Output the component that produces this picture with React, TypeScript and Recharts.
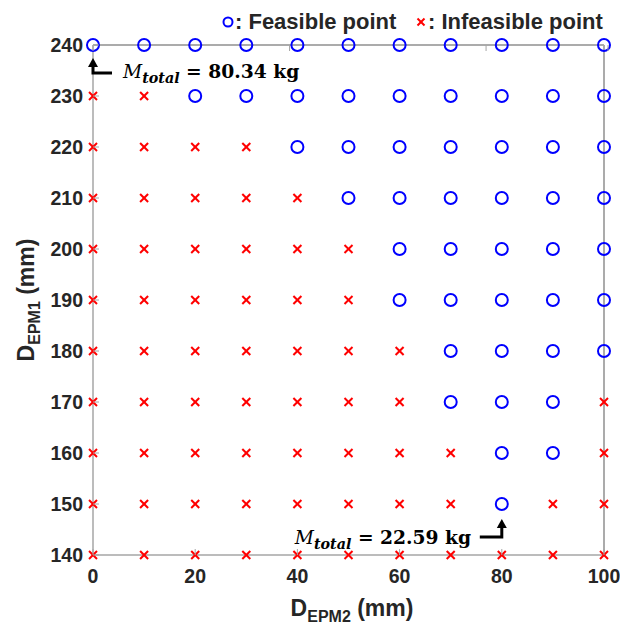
import React from "react";
import { ScatterChart, Scatter, XAxis, YAxis, ReferenceDot, ReferenceLine } from "recharts";

const xValues = [0, 10, 20, 30, 40, 50, 60, 70, 80, 90, 100];
const xTickLabels = [0, 20, 40, 60, 80, 100];
const yTickLabels = [140, 150, 160, 170, 180, 190, 200, 210, 220, 230, 240];

// feasible x values for each D_EPM1 row
const feasibleRows: { y: number; xs: number[] }[] = [
  { y: 240, xs: [0, 10, 20, 30, 40, 50, 60, 70, 80, 90, 100] },
  { y: 230, xs: [20, 30, 40, 50, 60, 70, 80, 90, 100] },
  { y: 220, xs: [40, 50, 60, 70, 80, 90, 100] },
  { y: 210, xs: [50, 60, 70, 80, 90, 100] },
  { y: 200, xs: [60, 70, 80, 90, 100] },
  { y: 190, xs: [60, 70, 80, 90, 100] },
  { y: 180, xs: [70, 80, 90, 100] },
  { y: 170, xs: [70, 80, 90] },
  { y: 160, xs: [80, 90] },
  { y: 150, xs: [80] },
  { y: 140, xs: [] },
];

const minMassPoint = { x: 80, y: 150, label: "22.59 kg" };
const maxMassPoint = { x: 0, y: 240, label: "80.34 kg" };

const feasible: { x: number; y: number }[] = [];
const infeasible: { x: number; y: number }[] = [];
feasibleRows.forEach((row) => {
  xValues.forEach((x) => {
    if (row.xs.includes(x)) feasible.push({ x, y: row.y });
    else infeasible.push({ x, y: row.y });
  });
});

const AXIS = "#a6a6a6";
const TXT = "#262626";
const SANS = "'Liberation Sans', Arial, sans-serif";
const SERIF = "'DejaVu Serif', 'Liberation Serif', serif";

const Circle = (p: any) => (
  <circle cx={p.cx} cy={p.cy} r={6} fill="none" stroke="#0000ff" strokeWidth={2} />
);
const Cross = (p: any) => (
  <g stroke="#ff0000" strokeWidth={2}>
    <line x1={p.cx - 4} y1={p.cy - 4} x2={p.cx + 4} y2={p.cy + 4} />
    <line x1={p.cx - 4} y1={p.cy + 4} x2={p.cx + 4} y2={p.cy - 4} />
  </g>
);

const M = 4;
const LeftTick = (p: any) => (
  <g>
    <line x1={p.x + M} y1={p.y} x2={p.x + M + 6} y2={p.y} stroke={AXIS} strokeWidth={1} />
    <text x={p.x - 6} y={p.y} dy={7} textAnchor="end" fontFamily={SANS} fontWeight="bold" fontSize={19.5} fill={TXT}>
      {p.payload.value}
    </text>
  </g>
);
const RightTick = (p: any) => (
  <line x1={p.x - M} y1={p.y} x2={p.x - M - 6} y2={p.y} stroke={AXIS} strokeWidth={1} />
);
const BottomTick = (p: any) => (
  <g>
    <line x1={p.x} y1={p.y - M} x2={p.x} y2={p.y - M - 6} stroke={AXIS} strokeWidth={1} />
    <text x={p.x} y={p.y} dy={24} textAnchor="middle" fontFamily={SANS} fontWeight="bold" fontSize={19.5} fill={TXT}>
      {p.payload.value}
    </text>
  </g>
);
const TopTick = (p: any) => (
  <line x1={p.x} y1={p.y + M} x2={p.x} y2={p.y + M + 6} stroke={AXIS} strokeWidth={1} />
);

const MassText = ({ x, y, value }: { x: number; y: number; value: string }) => (
  <text x={x} y={y} fontFamily={SERIF} fill="#000" fontSize={18.7}>
    <tspan fontStyle="italic">M</tspan>
    <tspan fontStyle="italic" fontWeight="bold" fontSize={14.3} dy={5}>total</tspan>
    <tspan dy={-5} fontWeight="bold">{" = " + value}</tspan>
  </text>
);

const TopAnnotation = (p: any) => {
  const { cx, cy } = p;
  return (
    <g>
      <path d={`M${cx} ${cy + 28} L${cx} ${cy + 20} M${cx - 1.5} ${cy + 28} L${cx + 19} ${cy + 28}`} stroke="#000" strokeWidth={3} fill="none" />
      <polygon points={`${cx},${cy + 13} ${cx - 5},${cy + 22} ${cx + 5},${cy + 22}`} fill="#000" />
      <MassText x={cx + 30} y={cy + 33} value={maxMassPoint.label} />
    </g>
  );
};
const BottomAnnotation = (p: any) => {
  const { cx, cy } = p;
  return (
    <g>
      <path d={`M${cx - 22} ${cy + 33} L${cx + 1.5} ${cy + 33} M${cx} ${cy + 33} L${cx} ${cy + 24}`} stroke="#000" strokeWidth={3} fill="none" />
      <polygon points={`${cx},${cy + 15} ${cx - 5},${cy + 24} ${cx + 5},${cy + 24}`} fill="#000" />
      <MassText x={cx - 207} y={cy + 40} value={minMassPoint.label} />
    </g>
  );
};

export default function App() {
  return (
    <div style={{ position: "absolute", left: 0, top: 0, width: 620, height: 626 }}>
      <ScatterChart width={620} height={626} margin={{ top: 44, right: 15, bottom: 31, left: 33 }}>
        <XAxis
          xAxisId="b"
          dataKey="x"
          type="number"
          domain={[0, 100]}
          ticks={xTickLabels}
          tick={<BottomTick />}
          tickLine={false}
          tickSize={0}
          tickMargin={M}
          stroke={AXIS}
          strokeWidth={1.5}
          height={40}
        />
        <XAxis
          xAxisId="t"
          orientation="top"
          type="number"
          domain={[0, 100]}
          ticks={xTickLabels}
          tick={<TopTick />}
          tickLine={false}
          tickSize={0}
          tickMargin={M}
          stroke={AXIS}
          strokeWidth={1.5}
          height={1}
        />
        <YAxis
          yAxisId="l"
          dataKey="y"
          type="number"
          domain={[140, 240]}
          ticks={yTickLabels}
          tick={<LeftTick />}
          tickLine={false}
          tickSize={0}
          tickMargin={M}
          stroke={AXIS}
          strokeWidth={1.5}
          width={60}
        />
        <YAxis
          yAxisId="r"
          orientation="right"
          type="number"
          domain={[140, 240]}
          ticks={yTickLabels}
          tick={<RightTick />}
          tickLine={false}
          tickSize={0}
          tickMargin={M}
          stroke={AXIS}
          strokeWidth={1.5}
          width={1}
        />
        <ReferenceLine xAxisId="b" yAxisId="l" y={240} stroke={AXIS} strokeWidth={1.5} />
        <ReferenceLine xAxisId="b" yAxisId="l" x={100} stroke={AXIS} strokeWidth={1.5} />
        <Scatter xAxisId="t" yAxisId="r" data={feasible} shape={() => <g />} isAnimationActive={false} />
        <Scatter xAxisId="b" yAxisId="l" data={infeasible} shape={<Cross />} isAnimationActive={false} />
        <Scatter xAxisId="b" yAxisId="l" data={feasible} shape={<Circle />} isAnimationActive={false} />
        <ReferenceDot xAxisId="b" yAxisId="l" x={maxMassPoint.x} y={maxMassPoint.y} shape={<TopAnnotation />} ifOverflow="visible" />
        <ReferenceDot xAxisId="b" yAxisId="l" x={minMassPoint.x} y={minMassPoint.y} shape={<BottomAnnotation />} ifOverflow="visible" />
      </ScatterChart>
      <svg width={620} height={626} style={{ position: "absolute", left: 0, top: 0, pointerEvents: "none" }}>
        <circle cx={228} cy={22} r={4.5} fill="none" stroke="#0000ff" strokeWidth={2} />
        <text x={235} y={29} fontFamily={SANS} fontWeight="bold" fontSize={22} fill={TXT}>: Feasible point</text>
        <g stroke="#ff0000" strokeWidth={2}>
          <line x1={417.5} y1={18.5} x2={424.5} y2={25.5} />
          <line x1={417.5} y1={25.5} x2={424.5} y2={18.5} />
        </g>
        <text x={428} y={29} fontFamily={SANS} fontWeight="bold" fontSize={22} fill={TXT}>: Infeasible point</text>
        <text x={352} y={616} textAnchor="middle" fontFamily={SANS} fontWeight="bold" fontSize={23} fill={TXT}>
          D<tspan fontSize={16} dy={6}>EPM2</tspan>
          <tspan dy={-6}> (mm)</tspan>
        </text>
        <text transform="translate(34,300) rotate(-90)" textAnchor="middle" fontFamily={SANS} fontWeight="bold" fontSize={23} fill={TXT}>
          D<tspan fontSize={16} dy={6}>EPM1</tspan>
          <tspan dy={-6}> (mm)</tspan>
        </text>
      </svg>
    </div>
  );
}
